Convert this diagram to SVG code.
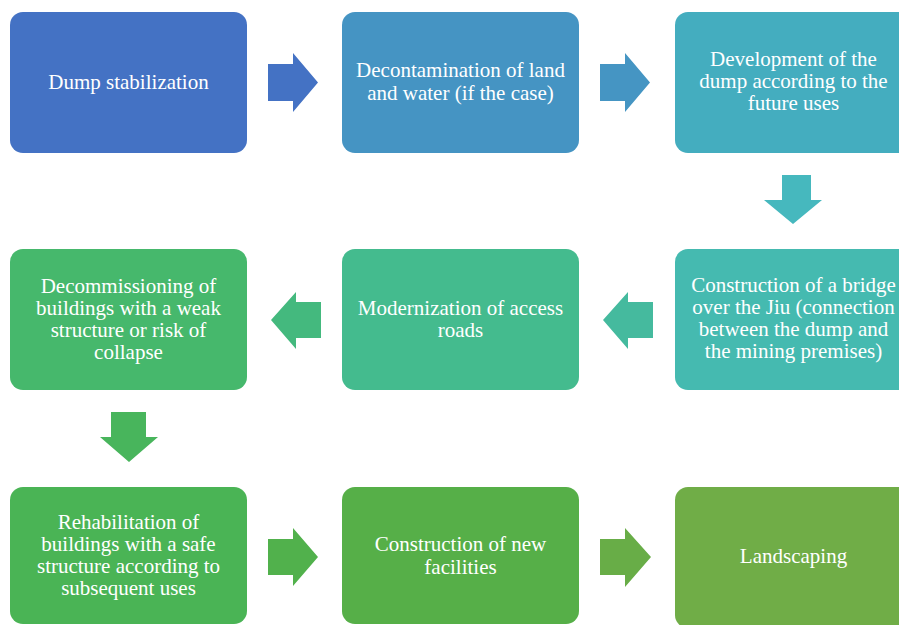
<svg xmlns="http://www.w3.org/2000/svg" width="899" height="625" viewBox="0 0 899 625">
<style>
.t{font-family:"Liberation Serif","Times New Roman",serif;font-size:21px;fill:#ffffff;text-anchor:middle}
</style>
<rect width="899" height="625" fill="#ffffff"/>
<g id="connectors">
<polygon points="268,64 293,64 293,53 318,82.5 293,112 293,101 268,101" fill="#4472C4"/>
<polygon points="600,64 625,64 625,53 650,82.5 625,112 625,101 600,101" fill="#4595C3"/>
<polygon points="782,175 811,175 811,200 822,200 793,224 764,200 782,200" fill="#46B8BE"/>
<polygon points="653,302 628,302 628,292 603,320 628,349 628,338 653,338" fill="#45BA9E"/>
<polygon points="321,302 296,302 296,292 271,320 296,349 296,338 321,338" fill="#44B97E"/>
<polygon points="111,412 146,412 146,437 158,437 129,462 100,437 111,437" fill="#48B55C"/>
<polygon points="268,539 293,539 293,528 318,557 293,586 293,575 268,575" fill="#51B14C"/>
<polygon points="600,539 625,539 625,528 651,557 625,587 625,575 600,575" fill="#68AD47"/>
</g>
<g id="n1"><rect x="10" y="12" width="237" height="141" rx="13" fill="#4472C4"/><text class="t" x="128.5" y="89">Dump stabilization</text></g>
<g id="n2"><rect x="342" y="12" width="237" height="141" rx="13" fill="#4594C3"/><text class="t" x="460.5" y="77">Decontamination of land</text><text class="t" x="460.5" y="100">and water (if the case)</text></g>
<g id="n3"><rect x="675" y="12" width="237" height="141" rx="13" fill="#44ADBF"/><text class="t" x="793.5" y="66">Development of the</text><text class="t" x="793.5" y="88">dump according to the</text><text class="t" x="793.5" y="110">future uses</text></g>
<g id="n4"><rect x="675" y="249" width="237" height="141" rx="13" fill="#45BAB0"/><text class="t" x="793.5" y="292">Construction of a bridge</text><text class="t" x="793.5" y="314">over the Jiu (connection</text><text class="t" x="793.5" y="336">between the dump and</text><text class="t" x="793.5" y="358">the mining premises)</text></g>
<g id="n5"><rect x="342" y="249" width="237" height="141" rx="13" fill="#44BB8E"/><text class="t" x="460.5" y="315">Modernization of access</text><text class="t" x="460.5" y="337">roads</text></g>
<g id="n6"><rect x="10" y="249" width="237" height="141" rx="13" fill="#46B86C"/><text class="t" x="128.5" y="293">Decommissioning of</text><text class="t" x="128.5" y="315">buildings with a weak</text><text class="t" x="128.5" y="337">structure or risk of</text><text class="t" x="128.5" y="359">collapse</text></g>
<g id="n7"><rect x="10" y="487" width="237" height="137" rx="13" fill="#4AB455"/><text class="t" x="128.5" y="529">Rehabilitation of</text><text class="t" x="128.5" y="551">buildings with a safe</text><text class="t" x="128.5" y="573">structure according to</text><text class="t" x="128.5" y="595">subsequent uses</text></g>
<g id="n8"><rect x="342" y="487" width="237" height="137" rx="13" fill="#56AF48"/><text class="t" x="460.5" y="551">Construction of new</text><text class="t" x="460.5" y="574">facilities</text></g>
<g id="n9"><rect x="675" y="487" width="237" height="141" rx="13" fill="#70AD47"/><text class="t" x="793.5" y="563">Landscaping</text></g>
</svg>
